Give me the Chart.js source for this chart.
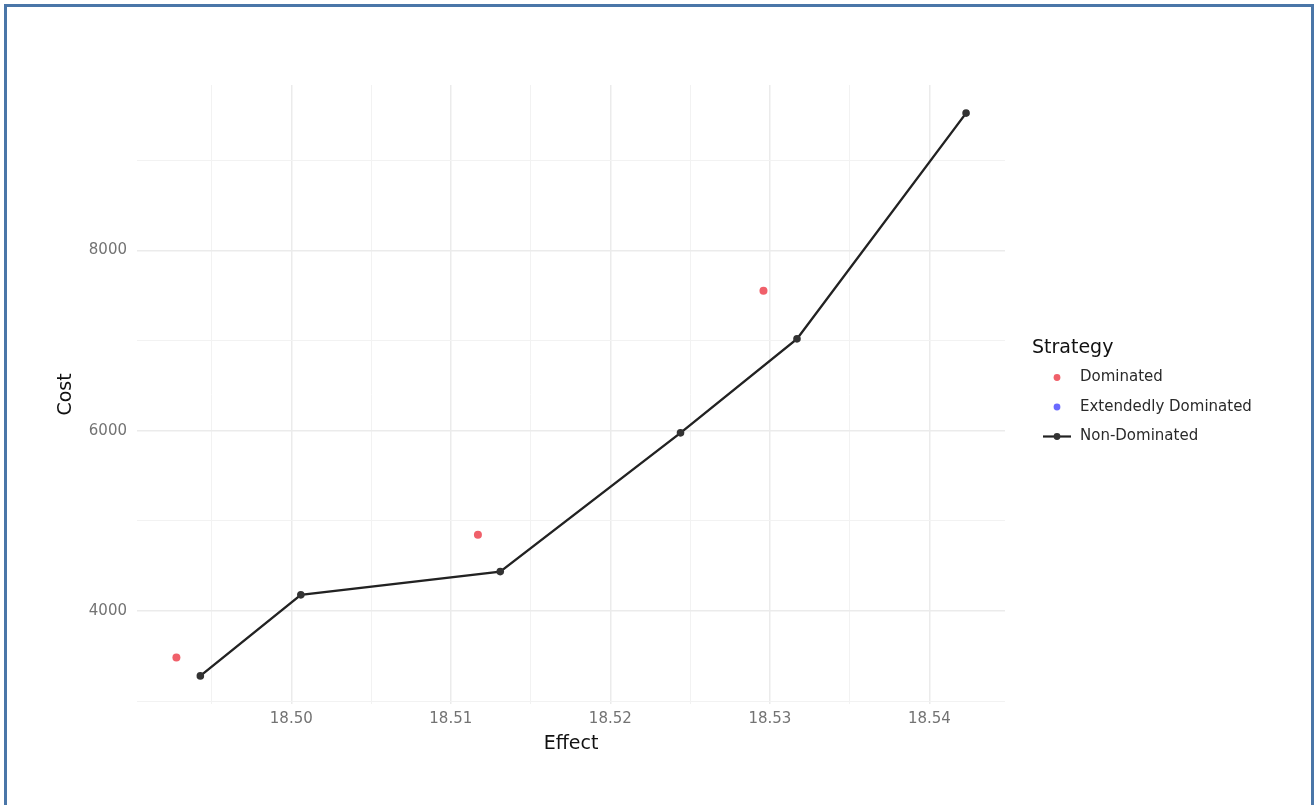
<!DOCTYPE html>
<html>
<head>
    <script src="https://cdn.jsdelivr.net/npm/chart.js@4.4.1/dist/chart.umd.min.js"></script>
    <style>
        html, body {
            margin: 0;
            padding: 0;
            background: #fff;
            overflow: hidden;
        }

        #wrap {
            position: absolute;
            left: 0;
            top: 0;
            width: 1315px;
            height: 805px;
        }

        #frame {
            position: absolute;
            left: 4px;
            top: 4px;
            width: 1304px;
            height: 900px;
            border: 3px solid #4a76a8;
            pointer-events: none;
        }
    </style>
</head>
<body>
<div id="wrap">
    <canvas id="myChart"></canvas>
</div>
<div id="frame"></div>

<script>
    // values
    const domEffect = [18.4928, 18.5117, 18.5296];
    const domCost = [3483, 4845, 7553];

    const extEffect = [];
    const extCost = [];

    const nonDomEffect = [18.4943, 18.5006, 18.5131, 18.5244, 18.5317, 18.5423];
    const nonDomCost = [3280, 4179, 4437, 5977, 7020, 9525];

    const xTicks = [18.495, 18.50, 18.505, 18.51, 18.515, 18.52, 18.525, 18.53, 18.535, 18.54];
    const yTicks = [3000, 4000, 5000, 6000, 7000, 8000, 9000];
    const xMajor = [18.50, 18.51, 18.52, 18.53, 18.54];
    const yMajor = [4000, 6000, 8000];

    const FONT = '"DejaVu Sans", "Liberation Sans", sans-serif';

    function toPoints(xs, ys) {
        return xs.map((x, i) => ({x: x, y: ys[i]}));
    }

    function isMajor(list, v) {
        return list.some(m => Math.abs(m - v) < 1e-7);
    }

    // ggplot-like legend on the right
    const strategyLegend = {
        id: 'strategyLegend',
        afterDraw(chart) {
            const ctx = chart.ctx;
            const x0 = chart.chartArea.right + 27;
            ctx.save();
            ctx.fillStyle = '#111';
            ctx.font = '19px ' + FONT;
            ctx.textBaseline = 'middle';
            ctx.fillText('Strategy', x0, 348);

            ctx.font = '15px ' + FONT;
            chart.data.datasets.forEach((ds, i) => {
                const y = 377.5 + i * 29.5;
                const cx = x0 + 25;
                if (ds.showLine) {
                    ctx.strokeStyle = ds.borderColor;
                    ctx.lineWidth = 2.2;
                    ctx.beginPath();
                    ctx.moveTo(cx - 14, y);
                    ctx.lineTo(cx + 14, y);
                    ctx.stroke();
                }
                ctx.fillStyle = ds.pointBackgroundColor;
                ctx.beginPath();
                ctx.arc(cx, y, 3.4, 0, Math.PI * 2);
                ctx.fill();
                ctx.fillStyle = '#2a2a2a';
                ctx.fillText(ds.label, x0 + 48, y);
            });
            ctx.restore();
        }
    };

    const ctx = document.getElementById('myChart').getContext('2d');
    const myChart = new Chart(ctx, {
        type: 'scatter',
        data: {
            datasets: [
                {
                    label: 'Dominated',
                    data: toPoints(domEffect, domCost),
                    showLine: false,
                    pointRadius: 4,
                    pointBackgroundColor: '#f0606a',
                    pointBorderWidth: 0,
                    borderColor: '#f0606a'
                },
                {
                    label: 'Extendedly Dominated',
                    data: toPoints(extEffect, extCost),
                    showLine: false,
                    pointRadius: 4,
                    pointBackgroundColor: '#6a6aff',
                    pointBorderWidth: 0,
                    borderColor: '#6a6aff'
                },
                {
                    label: 'Non-Dominated',
                    data: toPoints(nonDomEffect, nonDomCost),
                    showLine: true,
                    borderColor: '#222',
                    borderWidth: 2.4,
                    pointRadius: 3.8,
                    pointBackgroundColor: '#333',
                    pointBorderWidth: 0,
                    tension: 0
                }
            ]
        },
        options: {
            responsive: true,
            maintainAspectRatio: false,
            animation: false,
            layout: {
                padding: {top: 85, right: 310, left: 0, bottom: 0}
            },
            plugins: {
                legend: {display: false},
                tooltip: {enabled: false}
            },
            scales: {
                x: {
                    type: 'linear',
                    min: 18.49033,
                    max: 18.54474,
                    afterBuildTicks: scale => {
                        scale.ticks = xTicks.map(v => ({value: v}));
                    },
                    afterFit: scale => {
                        scale.height = 101;
                    },
                    border: {display: false},
                    grid: {
                        drawTicks: false,
                        color: c => isMajor(xMajor, c.tick.value) ? '#ebebeb' : '#f2f2f2',
                        lineWidth: c => isMajor(xMajor, c.tick.value) ? 1.5 : 1
                    },
                    ticks: {
                        autoSkip: false,
                        maxRotation: 0,
                        padding: 6,
                        color: '#737373',
                        font: {family: FONT, size: 15},
                        callback: v => isMajor(xMajor, v) ? v.toFixed(2) : ''
                    },
                    title: {
                        display: true,
                        text: 'Effect',
                        color: '#111',
                        font: {family: FONT, size: 19},
                        padding: {top: 50, bottom: 50}
                    }
                },
                y: {
                    type: 'linear',
                    min: 2968,
                    max: 9837,
                    afterBuildTicks: scale => {
                        scale.ticks = yTicks.map(v => ({value: v}));
                    },
                    afterFit: scale => {
                        scale.width = 137;
                    },
                    border: {display: false},
                    grid: {
                        drawTicks: false,
                        color: c => isMajor(yMajor, c.tick.value) ? '#ebebeb' : '#f2f2f2',
                        lineWidth: c => isMajor(yMajor, c.tick.value) ? 1.5 : 1
                    },
                    ticks: {
                        autoSkip: false,
                        padding: 10,
                        color: '#737373',
                        font: {family: FONT, size: 15},
                        callback: v => isMajor(yMajor, v) ? String(v) : ''
                    },
                    title: {
                        display: true,
                        text: 'Cost',
                        color: '#111',
                        font: {family: FONT, size: 19},
                        padding: {top: 55, bottom: 55}
                    }
                }
            }
        },
        plugins: [strategyLegend]
    });
</script>

</body>
</html>
